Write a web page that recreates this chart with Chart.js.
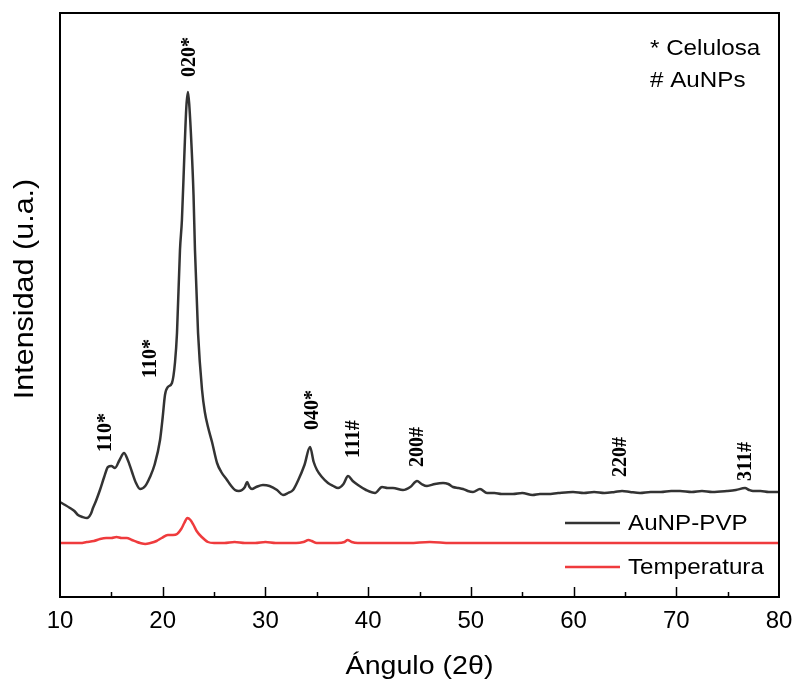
<!DOCTYPE html>
<html>
<head>
<meta charset="utf-8">
<script src="https://cdn.jsdelivr.net/npm/chart.js@4.4.1/dist/chart.umd.min.js"></script>
<style>
  html, body { margin: 0; padding: 0; background: #fff; }
  #wrap { width: 795px; height: 683px; }
</style>
</head>
<body>
<div id="wrap"><canvas id="myChart" width="795" height="683"></canvas></div>
<script>
// 2θ positions and intensities (a.u.) for the AuNP-PVP pattern
const angAuNP = [10.0, 10.5, 10.97, 11.4, 11.75, 12.2, 12.63, 13.0, 13.21, 13.5, 13.89, 14.3, 14.67, 15.0, 15.35, 15.8, 16.23, 16.6, 17.01, 17.4, 17.79, 18.3, 18.76, 19.2, 19.74, 20.0, 20.22, 20.5, 20.9, 21.2, 21.39, 21.68, 21.87, 22.1, 22.3, 22.46, 22.6, 22.8, 23.0, 23.14, 23.44, 23.83, 24.1, 24.41, 24.8, 25.29, 25.7, 26.26, 26.6, 27.04, 27.4, 27.72, 28.0, 28.21, 28.45, 28.69, 29.1, 29.76, 30.4, 31.13, 31.71, 32.2, 32.69, 33.2, 33.8, 34.34, 34.7, 35.02, 35.5, 36.09, 36.6, 37.07, 37.6, 38.04, 38.5, 39.01, 39.8, 40.67, 41.35, 41.9, 42.42, 43.39, 44.1, 44.76, 45.2, 45.73, 46.5, 47.29, 47.8, 48.26, 48.8, 49.24, 49.7, 50.21, 50.89, 51.57, 52.3, 53.0, 54.1, 55.0, 56.0, 56.73, 57.5, 58.5, 59.95, 61.0, 62.0, 63.0, 64.0, 64.72, 65.5, 66.47, 67.5, 68.5, 69.5, 70.36, 71.5, 72.5, 73.5, 74.94, 75.8, 76.69, 77.1, 77.47, 78.2, 79.0, 79.9];
const intAuNP = [95, 92, 89, 86, 82, 80, 79, 83, 89, 96, 107, 120, 130, 131, 129, 137, 144, 137, 125, 114, 108, 111, 120, 132, 157, 180, 202, 210, 214, 235, 264, 347, 377, 440, 490, 505, 490, 452, 402, 347, 264, 207, 185, 170, 155, 134, 125, 117, 112, 107, 106, 107, 110, 115, 110, 108, 110, 112, 111, 107, 102, 104, 107, 117, 132, 150, 135, 127, 120, 114, 111, 109, 113, 121, 116, 112, 107, 104, 110, 109, 109, 107, 110, 116, 113, 111, 113, 114, 113, 110, 109, 108, 106, 105, 108, 104, 104, 103, 103, 104, 102, 103, 103, 104, 105, 104, 105, 104, 105, 106, 105, 104, 105, 105, 106, 106, 105, 106, 105, 106, 107, 109, 107, 106, 106, 105, 105];

// 2θ positions and intensities (a.u.) for the "Temperatura" pattern
const angTemp = [10.0, 11.0, 12.0, 12.6, 13.3, 13.9, 14.5, 15.0, 15.5, 16.0, 16.5, 17.0, 17.5, 17.8, 18.3, 18.8, 19.4, 19.9, 20.5, 21.0, 21.4, 21.8, 22.1, 22.4, 22.7, 23.0, 23.3, 23.8, 24.4, 25.0, 26.0, 27.0, 28.0, 29.0, 30.0, 31.0, 32.0, 33.0, 33.7, 34.2, 34.5, 35.0, 36.0, 37.0, 37.7, 38.0, 38.4, 39.0, 40.0, 42.0, 44.0, 46.0, 48.0, 50.0, 52.0, 54.0, 56.0, 58.0, 60.0, 62.0, 64.0, 66.0, 68.0, 70.0, 72.0, 74.0, 76.0, 78.0, 80.0];
const intTemp = [54, 54, 54, 55, 56, 58, 59, 59, 60, 59, 59, 57, 55, 54, 53, 54, 56, 59, 62, 62, 63, 68, 74, 79, 77, 72, 66, 60, 55, 54, 54, 55, 54, 54, 55, 54, 54, 54, 55, 57, 56, 54, 54, 54, 55, 57, 55, 54, 54, 54, 54, 55, 54, 54, 54, 54, 54, 54, 54, 54, 54, 54, 54, 54, 54, 54, 54, 54, 54];

// Miller index labels over the peaks (text, 2θ, intensity at label foot)
const peakText = ["110*", "110*", "020*", "040*", "111#", "200#", "220#", "311#"];
const peakAng = [14.38, 18.76, 22.55, 34.53, 38.53, 44.76, 64.52, 76.69];
const peakInt = [145, 219, 520, 167, 139, 130, 120, 116];

const xTicks = [10, 20, 30, 40, 50, 60, 70, 80];
const noteLines = ["* Celulosa", "# AuNPs"];
const xTitle = "Ángulo (2θ)";
const yTitle = "Intensidad (u.a.)";

const sansFont = "'Liberation Sans', Arial, sans-serif";

const toPoints = (xs, ys) => xs.map((x, i) => ({ x: x, y: ys[i] }));

// text drawn a little wider than the font, like the original export
const wideText = (ctx, text, x, y, sx, align) => {
  ctx.save();
  ctx.translate(x, y);
  ctx.scale(sx, 1);
  ctx.textAlign = align;
  ctx.fillText(text, 0, 0);
  ctx.restore();
};

// frame around the plot plus inward tick marks on the bottom axis
const framePlugin = {
  id: "frame",
  afterDatasetsDraw(chart) {
    const { ctx, chartArea: a, scales } = chart;
    ctx.save();
    ctx.strokeStyle = "#000";
    ctx.lineWidth = 2;
    ctx.strokeRect(a.left, a.top, a.right - a.left, a.bottom - a.top);
    ctx.lineWidth = 1.5;
    for (let v = 15; v < 80; v += 5) {
      const px = Math.round(scales.x.getPixelForValue(v)) + 0.5;
      const len = v % 10 === 0 ? 10 : 5;
      ctx.beginPath();
      ctx.moveTo(px, a.bottom);
      ctx.lineTo(px, a.bottom - len);
      ctx.stroke();
    }
    ctx.restore();
  }
};

// axis titles, rotated peak labels, legend and the note in the corner
const textPlugin = {
  id: "texts",
  afterDraw(chart) {
    const { ctx, chartArea: a, scales } = chart;
    ctx.save();
    ctx.fillStyle = "#000";

    // axis titles
    ctx.font = "26px " + sansFont;
    ctx.textBaseline = "middle";
    wideText(ctx, xTitle, (a.left + a.right) / 2, 667, 1.1, "center");
    ctx.save();
    ctx.translate(26, 289);
    ctx.rotate(-Math.PI / 2);
    ctx.font = "27px " + sansFont;
    wideText(ctx, yTitle, 0, 0, 1.13, "center");
    ctx.restore();

    // peak labels
    ctx.font = "bold 20px 'Liberation Serif', 'Times New Roman', serif";
    ctx.textAlign = "left";
    ctx.textBaseline = "middle";
    peakText.forEach((t, i) => {
      const px = scales.x.getPixelForValue(peakAng[i]);
      const py = scales.y.getPixelForValue(peakInt[i]);
      ctx.save();
      ctx.translate(px, py);
      ctx.rotate(-Math.PI / 2);
      ctx.fillText(t, 0, 1);
      ctx.restore();
    });

    // note in the upper right corner
    ctx.font = "22px " + sansFont;
    ctx.textBaseline = "alphabetic";
    noteLines.forEach((t, i) => {
      wideText(ctx, t, a.right - 129, a.top + 42 + i * 32, 1.1, "left");
    });

    // legend
    ctx.textBaseline = "middle";
    chart.data.datasets.forEach((ds, i) => {
      const y = a.bottom - 74 + i * 44;
      ctx.strokeStyle = ds.borderColor;
      ctx.lineWidth = 2.5;
      ctx.beginPath();
      ctx.moveTo(a.right - 214, y);
      ctx.lineTo(a.right - 159, y);
      ctx.stroke();
      wideText(ctx, ds.label, a.right - 151, y + 1, 1.1, "left");
    });
    ctx.restore();
  }
};

const createChart = () => {
  const ctx = document.getElementById("myChart").getContext("2d");

  const data = {
    datasets: [
      {
        label: "AuNP-PVP",
        data: toPoints(angAuNP, intAuNP),
        borderColor: "#333333",
        borderWidth: 2.5,
        pointRadius: 0,
        cubicInterpolationMode: "monotone",
        fill: false
      },
      {
        label: "Temperatura",
        data: toPoints(angTemp, intTemp),
        borderColor: "#ef3b3d",
        borderWidth: 2.5,
        pointRadius: 0,
        cubicInterpolationMode: "monotone",
        fill: false
      }
    ]
  };

  const config = {
    type: "line",
    data: data,
    options: {
      responsive: false,
      animation: false,
      layout: { padding: { top: 13, right: 16, left: 0, bottom: 0 } },
      plugins: {
        legend: { display: false },
        tooltip: { enabled: false }
      },
      scales: {
        x: {
          type: "linear",
          min: 10,
          max: 80,
          afterBuildTicks: (scale) => {
            scale.ticks = xTicks.map(v => ({ value: v }));
          },
          afterFit: (scale) => { scale.height = 86; },
          grid: { display: false, drawTicks: true, tickLength: 8 },
          border: { display: false },
          ticks: {
            color: "#000",
            padding: 2,
            maxRotation: 0,
            font: { family: sansFont, size: 24 }
          }
        },
        y: {
          min: 0,
          max: 584,
          afterFit: (scale) => { scale.width = 60; },
          grid: { display: false },
          border: { display: false },
          ticks: { display: false }
        }
      }
    },
    plugins: [framePlugin, textPlugin]
  };

  new Chart(ctx, config);
};

document.addEventListener("DOMContentLoaded", createChart);
</script>
</body>
</html>
